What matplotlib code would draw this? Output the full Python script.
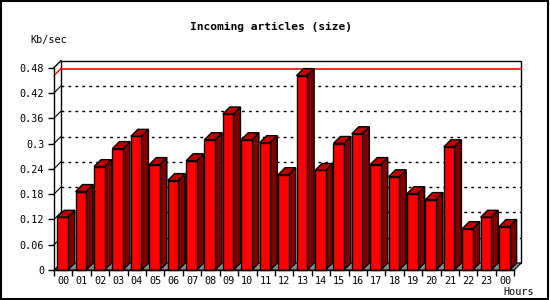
import matplotlib
matplotlib.use("Agg")
import matplotlib.pyplot as plt
from matplotlib.patches import Polygon, Rectangle
import numpy as np

hours = ["00", "01", "02", "03", "04", "05", "06", "07", "08", "09", "10", "11",
         "12", "13", "14", "15", "16", "17", "18", "19", "20", "21", "22", "23", "00"]
values = [0.125, 0.186, 0.245, 0.288, 0.317, 0.250, 0.212, 0.259, 0.309, 0.370,
          0.309, 0.302, 0.226, 0.461, 0.236, 0.300, 0.323, 0.250, 0.221, 0.181,
          0.167, 0.292, 0.098, 0.125, 0.103]
yticks = [0, 0.06, 0.12, 0.18, 0.24, 0.3, 0.36, 0.42, 0.48]
ytick_labels = ["0", "0.06", "0.12", "0.18", "0.24", "0.3", "0.36", "0.42", "0.48"]
title = "Incoming articles (size)"
ylabel = "Kb/sec"
xlabel = "Hours"

W, H = 550, 300
fig = plt.figure(figsize=(W / 100, H / 100), dpi=100)
fig.patch.set_facecolor("white")
mono = "DejaVu Sans Mono"

# axes placement (front plane)
ax_left, ax_right, ax_bottom, ax_top = 54, 514.25, 270, 67.6
ax = fig.add_axes([ax_left / W, (H - ax_bottom) / H,
                   (ax_right - ax_left) / W, (ax_bottom - ax_top) / H])
n = len(values)
ax.set_xlim(-0.5, n - 0.5)
ax.set_ylim(0, 0.48)
ax.set_facecolor("none")

px_x = (ax_right - ax_left) / n          # pixels per x unit
px_y = (ax_bottom - ax_top) / 0.48       # pixels per y unit
depth = 7
dx = depth / px_x
dy = depth / px_y

x0, x1 = -0.5, n - 0.5
ytop = 0.48
common = dict(clip_on=False)

# back wall
ax.add_patch(Polygon([(x0 + dx, dy), (x1 + dx, dy), (x1 + dx, ytop + dy), (x0 + dx, ytop + dy)],
                     closed=True, facecolor="white", edgecolor="black", lw=1, zorder=1, **common))
# floor
ax.add_patch(Polygon([(x0, 0), (x1, 0), (x1 + dx, dy), (x0 + dx, dy)],
                     closed=True, facecolor="#8c8c8c", edgecolor="black", lw=0.8, zorder=1.5, **common))

# grid lines (dotted) on back wall + left wall
for yv in yticks[1:-1]:
    ax.plot([x0 + dx, x1 + dx], [yv + dy, yv + dy], color="black", lw=1,
            linestyle=(0, (2, 3)), zorder=2, **common)
    ax.plot([x0, x0 + dx], [yv, yv + dy], color="black", lw=0.8, zorder=2, **common)

# top wall diagonal
ax.plot([x0, x0 + dx], [ytop, ytop + dy], color="black", lw=1, zorder=2, **common)

# max line
vmax = max(values)
ax.plot([x0 + dx, x1 + dx], [vmax + dy, vmax + dy], color="#ff0000", lw=1.2, zorder=2, **common)
ax.plot([x0, x0 + dx], [vmax, vmax + dy], color="#ff0000", lw=1, zorder=2, **common)

# bars
xs = np.arange(n)
off = 3.2 / px_x
bw = 10.6 / px_x
lefts = xs - 0.5 + off
ax.bar(lefts, values, width=bw, align="edge", color="#ff0000", edgecolor="black",
       linewidth=1, zorder=4, clip_on=False)
for xl, v in zip(lefts, values):
    xr = xl + bw
    ax.add_patch(Polygon([(xr, 0), (xr + dx, dy), (xr + dx, v + dy), (xr, v)], closed=True,
                         facecolor="#800000", edgecolor="black", lw=1, zorder=3, **common))
    ax.add_patch(Polygon([(xl, v), (xl + dx, v + dy), (xr + dx, v + dy), (xr, v)], closed=True,
                         facecolor="#c00000", edgecolor="black", lw=1, zorder=3, **common))

# spines and ticks
for s in ["top", "right"]:
    ax.spines[s].set_visible(False)
for s in ["left", "bottom"]:
    ax.spines[s].set_linewidth(1)
    ax.spines[s].set_zorder(5)
ax.set_yticks(yticks)
ax.set_yticklabels(ytick_labels, fontfamily=mono, fontsize=7.3)
ax.tick_params(axis="y", length=4, width=1, pad=3, direction="out")
ax.set_xticks(np.arange(n + 1) - 0.5)
ax.set_xticklabels([])
ax.tick_params(axis="x", which="major", length=4, width=1, direction="out")
ax.set_xticks(xs, minor=True)
ax.set_xticklabels(hours, minor=True, fontfamily=mono, fontsize=7.3)
ax.tick_params(axis="x", which="minor", length=0, pad=4)

# texts
fig.text(271.5 / W, 1 - 26.5 / H, title, ha="center", va="center",
         fontfamily=mono, fontweight="bold", fontsize=8.1)
fig.text(30 / W, 1 - 40 / H, ylabel, ha="left", va="center", fontfamily=mono, fontsize=7.3)
fig.text(534 / W, 1 - 292 / H, xlabel, ha="right", va="center", fontfamily=mono, fontsize=7.3)

# outer frame
fig.add_artist(Rectangle((0.8 / W, 1.2 / H), 547.5 / W, 297.5 / H, transform=fig.transFigure,
                         fill=False, edgecolor="black", lw=1.5))

fig.savefig("out.png", dpi=100)
